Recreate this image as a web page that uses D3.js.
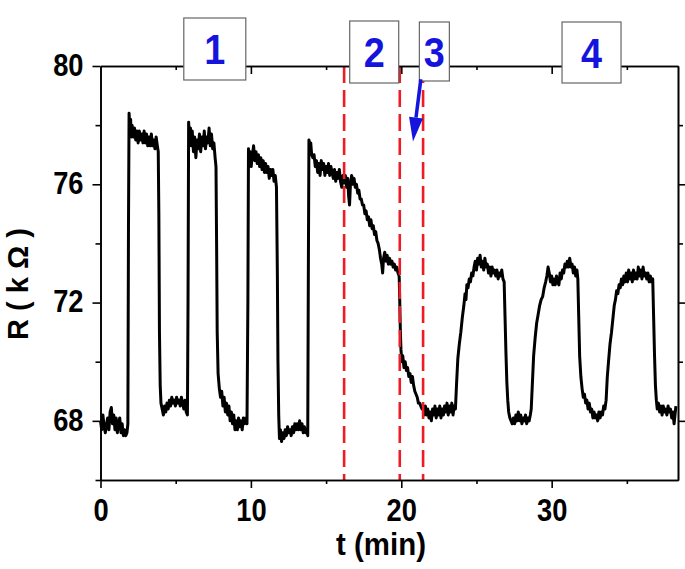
<!DOCTYPE html>
<html>
<head>
<meta charset="utf-8">
<script src="https://cdn.jsdelivr.net/npm/d3@7"></script>
<style>
  html, body { margin: 0; padding: 0; background: #fff; }
  svg { display: block; }
  text { font-family: "Liberation Sans", Arial, sans-serif; font-weight: bold; }
</style>
</head>
<body>
<svg id="chart" width="685" height="569"></svg>
<script>
// ---------------- DATA ----------------
// Phase 1: repeated on/off pulses (t in min, R in kOhm)
const pulseTrace = [
  [0,68.0],[0.08,67.7],[0.16,68.2],[0.24,67.8],[0.32,67.6],[0.4,67.9],[0.48,68.1],[0.56,67.7],[0.64,68.3],[0.72,68.45],
  [0.8,67.9],[0.88,68.2],[0.96,67.7],[1.04,68.1],[1.12,67.6],[1.2,67.9],[1.28,68.1],[1.36,67.6],[1.44,67.9],[1.52,67.5],
  [1.6,67.7],[1.68,67.5],[1.76,67.6],[1.82,67.9],
  [1.86,74.5],[1.9,78.4],[1.95,77.9],[2.0,78.2],[2.05,77.6],[2.1,78.0],[2.18,77.6],[2.26,77.9],[2.34,77.5],[2.42,77.8],
  [2.5,77.4],[2.58,77.8],[2.66,77.5],[2.74,77.7],[2.82,77.4],[2.9,77.8],[2.98,77.4],[3.06,77.7],[3.14,77.3],[3.22,77.6],
  [3.3,77.3],[3.38,77.7],[3.46,77.3],[3.54,77.5],[3.62,77.2],[3.7,77.6],[3.78,77.3],[3.84,77.1],
  [3.88,75.0],[3.92,71.0],[3.97,69.2],[4.02,68.6],[4.1,68.4],[4.18,68.2],[4.26,68.5],[4.34,68.3],[4.42,68.6],[4.5,68.4],
  [4.58,68.7],[4.66,68.5],[4.74,68.8],[4.82,68.6],[4.9,68.7],[4.98,68.5],[5.06,68.8],[5.14,68.6],[5.22,68.7],[5.3,68.5],
  [5.38,68.8],[5.46,68.6],[5.54,68.4],[5.62,68.7],[5.7,68.3],[5.78,68.2],
  [5.82,72.0],[5.86,78.1],[5.92,77.5],[5.98,77.9],[6.04,77.3],[6.1,77.8],[6.18,77.1],[6.26,77.6],[6.34,76.9],[6.42,77.5],
  [6.5,77.2],[6.58,77.7],[6.66,77.1],[6.74,77.6],[6.82,77.3],[6.9,77.8],[6.98,77.2],[7.06,77.6],[7.14,77.4],[7.22,77.9],
  [7.3,77.3],[7.38,77.7],[7.46,77.2],[7.54,77.4],[7.62,76.9],[7.68,76.6],
  [7.72,74.0],[7.76,71.0],[7.82,69.6],[7.9,69.1],[7.98,68.8],[8.06,69.0],[8.14,68.5],[8.22,68.8],[8.3,68.3],[8.38,68.6],
  [8.46,68.2],[8.54,68.5],[8.62,68.0],[8.7,68.3],[8.78,67.9],[8.86,68.2],[8.94,67.7],[9.02,68.0],[9.1,67.7],[9.18,68.1],
  [9.26,67.8],[9.34,68.0],[9.42,67.7],[9.5,68.1],[9.58,67.9],[9.66,68.1],[9.74,67.9],
  [9.8,72.0],[9.84,77.2],[9.9,76.8],[9.96,77.1],[10.02,76.6],[10.1,77.0],[10.18,77.3],[10.26,76.8],[10.34,77.1],[10.42,76.7],
  [10.5,77.0],[10.58,76.6],[10.66,76.9],[10.74,76.5],[10.82,76.8],[10.9,76.4],[10.98,76.7],[11.06,76.4],[11.14,76.6],[11.22,76.2],
  [11.3,76.5],[11.38,76.3],[11.46,76.5],[11.54,76.1],[11.62,76.3],[11.7,75.9],
  [11.76,73.0],[11.8,70.0],[11.85,68.2],[11.9,67.4],[11.96,67.7],[12.04,67.3],[12.12,67.6],[12.2,67.4],[12.28,67.7],[12.36,67.5],
  [12.44,67.8],[12.52,67.6],[12.6,67.7],[12.68,67.5],[12.76,67.8],[12.84,67.6],[12.92,67.9],[13.0,67.7],[13.08,67.9],[13.16,67.7],
  [13.24,68.0],[13.32,67.7],[13.4,67.9],[13.48,67.6],[13.56,67.8],[13.64,67.6],[13.72,67.7],[13.78,67.5],
  [13.82,73.0],[13.86,77.5],[13.92,77.2],[13.98,77.4],[14.04,77.0],[14.12,76.9],[14.2,77.0],[14.28,76.6],[14.36,76.8],[14.44,76.4],
  [14.52,76.7],[14.6,76.3],[14.68,76.8],[14.76,76.5],[14.84,76.7],[14.92,76.3],[15.0,76.6],[15.08,76.4],[15.16,76.7],[15.24,76.3],
  [15.32,76.6],[15.4,76.4],[15.48,76.2],[15.56,76.5],[15.64,76.1],[15.72,76.4],[15.8,76.2],[15.88,76.5],[15.96,76.1],[16.04,75.9],
  [16.12,76.3],[16.2,76.0]
];
// Phase 2: slow drift down
const driftTrace = [
  [16.2,76.0],[16.28,76.3],[16.36,75.9],[16.44,76.2],[16.5,75.6],[16.56,75.3],[16.62,76.0],[16.7,76.3],[16.78,76.0],[16.86,76.2],
  [16.94,75.9],[17.02,76.0],[17.1,75.7],[17.18,75.8],[17.26,75.5],[17.34,75.5],[17.42,75.3],[17.5,75.3],[17.58,75.0],[17.66,75.1],
  [17.74,74.8],[17.82,74.9],[17.9,74.6],[17.98,74.8],[18.06,74.5],[18.14,74.6],[18.22,74.3],[18.3,74.4],[18.38,74.1],[18.46,74.0],
  [18.54,73.8],[18.62,73.5],[18.7,73.3],[18.76,73.0],[18.82,73.5],[18.9,73.7],[18.98,73.4],[19.06,73.6],[19.14,73.3],[19.22,73.5],
  [19.3,73.3],[19.38,73.4],[19.46,73.2],[19.54,73.3],[19.62,73.1],[19.7,73.2],[19.78,73.0],[19.86,72.9]
];
// Phase 3: sharp drop
const dropTrace = [
  [19.86,72.9],[19.9,72.0],[19.94,71.0],[19.98,70.4],[20.04,70.0],[20.1,70.2],[20.18,69.8],[20.26,70.0],[20.34,69.7],[20.42,69.8],
  [20.5,69.5],[20.58,69.6],[20.66,69.3],[20.74,69.5],[20.82,69.2],[20.9,69.0],[20.98,68.9],[21.06,68.8],[21.14,68.6],[21.22,68.6],
  [21.3,68.5],[21.38,68.4],[21.45,68.4]
];
// Phase 4: recovered, slower pulses
const recoveryTrace = [
  [21.45,68.4],[21.52,68.2],[21.6,68.5],[21.68,68.2],[21.76,68.4],[21.84,68.1],[21.92,68.3],[22.0,68.0],[22.08,68.4],[22.16,68.2],
  [22.24,68.5],[22.32,68.1],[22.4,68.4],[22.48,68.2],[22.56,68.5],[22.64,68.1],[22.72,68.4],[22.8,68.2],[22.88,68.5],[22.96,68.3],
  [23.04,68.6],[23.12,68.2],[23.2,68.5],[23.28,68.3],[23.36,68.6],[23.44,68.2],[23.52,68.5],[23.6,68.4],
  [23.68,69.3],[23.76,70.1],[23.86,70.6],[23.96,71.0],[24.06,71.5],[24.16,71.9],[24.24,72.3],[24.3,72.1],[24.36,72.6],[24.44,72.5],
  [24.52,72.8],[24.6,72.7],[24.68,73.0],[24.76,72.9],[24.84,73.2],[24.92,73.4],[25.0,73.1],[25.08,73.5],[25.16,73.3],[25.24,73.6],
  [25.32,73.2],[25.4,73.4],[25.48,73.1],[25.56,73.5],[25.64,73.2],[25.72,73.3],[25.8,73.0],[25.88,73.2],[25.96,72.9],[26.04,73.2],
  [26.12,73.0],[26.2,73.1],[26.28,72.9],[26.36,73.1],[26.44,72.8],[26.52,73.0],[26.6,72.9],[26.68,73.1],[26.76,72.8],[26.84,72.7],
  [26.9,71.5],[26.96,70.3],[27.02,69.3],[27.08,68.7],[27.14,68.3],[27.22,68.1],[27.3,68.0],[27.38,67.9],[27.46,68.1],[27.54,67.9],
  [27.62,68.2],[27.7,68.0],[27.78,68.3],[27.86,68.0],[27.94,68.2],[28.02,67.9],[28.1,68.1],[28.18,68.0],[28.26,68.2],[28.34,67.9],
  [28.42,68.1],[28.5,68.0],[28.58,68.2],[28.64,68.4],
  [28.72,69.3],[28.8,70.2],[28.9,70.8],[29.0,71.3],[29.1,71.6],[29.2,71.9],[29.3,72.1],[29.4,72.2],[29.5,72.5],[29.6,72.7],
  [29.68,72.9],[29.76,73.2],[29.84,73.0],[29.92,72.7],[30.0,72.9],[30.08,72.6],[30.16,72.8],[30.24,72.6],[30.32,72.9],[30.4,72.7],
  [30.48,72.6],[30.56,73.0],[30.64,72.8],[30.72,73.1],[30.8,73.0],[30.88,73.3],[30.96,73.2],[31.04,73.4],[31.12,73.2],[31.2,73.5],
  [31.28,73.2],[31.36,73.3],[31.44,73.0],[31.52,73.2],[31.6,72.9],[31.68,73.1],[31.74,72.8],
  [31.8,71.5],[31.86,70.2],[31.94,69.5],[32.02,69.1],[32.1,68.8],[32.18,68.9],[32.26,68.6],[32.34,68.7],[32.42,68.4],[32.5,68.6],
  [32.58,68.3],[32.66,68.4],[32.74,68.1],[32.82,68.3],[32.9,68.1],[32.98,68.2],[33.06,68.0],[33.14,68.3],[33.22,68.1],[33.3,68.3],
  [33.38,68.2],[33.46,68.5],[33.54,68.4],[33.62,68.7],
  [33.7,69.5],[33.78,70.0],[33.88,70.6],[33.98,71.0],[34.08,71.5],[34.16,71.9],[34.24,72.1],[34.32,72.4],[34.4,72.3],[34.48,72.6],
  [34.56,72.5],[34.64,72.8],[34.72,72.6],[34.8,72.9],[34.88,72.7],[34.96,73.0],[35.04,72.7],[35.12,73.1],[35.2,72.8],[35.28,73.0],
  [35.36,72.7],[35.44,73.1],[35.52,72.8],[35.6,73.0],[35.68,72.8],[35.76,73.2],[35.84,72.9],[35.92,73.1],[36.0,72.8],[36.08,73.2],
  [36.16,72.9],[36.24,73.0],[36.32,72.8],[36.4,73.0],[36.48,72.7],[36.56,72.9],[36.64,72.7],[36.72,72.8],
  [36.78,71.5],[36.84,70.2],[36.9,69.2],[36.96,68.7],[37.02,68.4],[37.1,68.6],[37.18,68.3],[37.26,68.5],[37.34,68.2],[37.42,68.5],
  [37.5,68.3],[37.58,68.4],[37.66,68.2],[37.74,68.5],[37.82,68.3],[37.9,68.4],[37.98,68.1],[38.06,68.3],[38.14,67.9],[38.2,68.2],
  [38.26,68.5]
];

const xMajorTicks = [0, 10, 20, 30];
const xMinorTicks = [5, 15, 25, 35];
const yMajorTicks = [68, 72, 76, 80];
const yMinorTicks = [66, 70, 74, 78];
const phaseBoundaries = [16.2, 19.9, 21.45];          // red dashed lines (min)
const phaseLabels = ["1", "2", "3", "4"];
const phaseLabelCenters = [7.6, 18.2, 22.2, 32.65];  // t of each label box centre
const arrowFrom = [21.3, 79.55];                       // [t, R]
const arrowTo = [20.78, 77.45];
const xTitle = "t (min)";
const yTitle = "R ( k Ω )";

// ---------------- LAYOUT ----------------
const L = 100.5, R = 678, T = 66, B = 480;
const FONT = '"Liberation Sans", Arial, sans-serif';
const svg = d3.select("#chart");
const x = d3.scaleLinear().domain([0, 38.4]).range([L, R]);
const y = d3.scaleLinear().domain([66, 80]).range([B, T]);

// trace
const line = d3.line().x(d => x(d[0])).y(d => y(d[1]));
[pulseTrace, driftTrace, dropTrace, recoveryTrace].forEach(tr => {
  svg.append("path").datum(tr).attr("d", line)
    .attr("fill", "none").attr("stroke", "#000").attr("stroke-width", 3)
    .attr("stroke-linejoin", "round");
});

// dashed phase boundaries
svg.selectAll("line.phase").data(phaseBoundaries).enter().append("line")
  .attr("x1", d => x(d)).attr("x2", d => x(d))
  .attr("y1", T).attr("y2", B)
  .attr("stroke", "#ee1c25").attr("stroke-width", 2.6)
  .attr("stroke-dasharray", "17,7");

// axes
const axisStyle = g => {
  g.selectAll("path.domain").attr("stroke", "#000").attr("stroke-width", 1.6);
  g.selectAll(".tick line").attr("stroke", "#000").attr("stroke-width", 1.6);
  g.selectAll("text").attr("font-size", 31).attr("fill", "#000")
    .attr("font-family", FONT).attr("font-weight", "bold");
};
const bottomMajor = svg.append("g").attr("transform", `translate(0,${B})`)
  .call(d3.axisBottom(x).tickValues(xMajorTicks).tickSize(8).tickSizeOuter(0).tickPadding(11).tickFormat(d3.format("d")))
  .call(axisStyle);
bottomMajor.selectAll(".tick text").attr("transform", "scale(0.88,1)");
svg.append("g").attr("transform", `translate(0,${B})`)
  .call(d3.axisBottom(x).tickValues(xMinorTicks).tickSize(4).tickSizeOuter(0).tickFormat(""))
  .call(axisStyle);
svg.append("g").attr("transform", `translate(0,${T})`)
  .call(d3.axisBottom(x).tickValues(xMajorTicks.slice(1)).tickSize(8).tickSizeOuter(0).tickFormat(""))
  .call(axisStyle);
svg.append("g").attr("transform", `translate(0,${T})`)
  .call(d3.axisBottom(x).tickValues(xMinorTicks).tickSize(4).tickSizeOuter(0).tickFormat(""))
  .call(axisStyle);
const leftMajor = svg.append("g").attr("transform", `translate(${L},0)`)
  .call(d3.axisLeft(y).tickValues(yMajorTicks).tickSize(8).tickSizeOuter(0).tickPadding(8).tickFormat(d3.format("d")))
  .call(axisStyle);
leftMajor.selectAll(".tick text").attr("x", 0).attr("dy", "0.3em").attr("transform", "translate(-17,0) scale(0.88,1)");
svg.append("g").attr("transform", `translate(${L},0)`)
  .call(d3.axisLeft(y).tickValues(yMinorTicks).tickSize(5).tickSizeOuter(0).tickFormat(""))
  .call(axisStyle);
svg.append("g").attr("transform", `translate(${R},0)`)
  .call(d3.axisLeft(y).tickValues(yMajorTicks.slice(0, 3)).tickSize(-8).tickSizeOuter(0).tickFormat(""))
  .call(axisStyle);
svg.append("g").attr("transform", `translate(${R},0)`)
  .call(d3.axisLeft(y).tickValues(yMinorTicks.slice(1)).tickSize(-5).tickSizeOuter(0).tickFormat(""))
  .call(axisStyle);

// axis titles
svg.append("text").attr("transform", "translate(381,555) scale(0.95,1)").attr("text-anchor", "middle")
  .attr("font-size", 31).text(xTitle);
svg.append("text").attr("transform", "translate(28,284) rotate(-90)").attr("text-anchor", "middle")
  .attr("font-size", 29).text(yTitle);

// label boxes
const boxes = [
  {w: 62, top: 18, bot: 80},
  {w: 49, top: 21, bot: 83},
  {w: 30, top: 22, bot: 81},
  {w: 59, top: 22, bot: 83}
];
phaseLabels.forEach((lab, i) => {
  const cx = x(phaseLabelCenters[i]);
  const b = boxes[i];
  svg.append("rect").attr("x", cx - b.w / 2).attr("y", b.top).attr("width", b.w).attr("height", b.bot - b.top)
    .attr("fill", "#fff").attr("stroke", "#666").attr("stroke-width", 1.2);
  svg.append("text").attr("transform", `translate(${cx},${(b.top + b.bot) / 2 + 15}) scale(0.9,1)`)
    .attr("text-anchor", "middle")
    .attr("font-size", 42).attr("fill", "#1414dc").text(lab);
});

// arrow
const ax1 = x(arrowFrom[0]), ay1 = y(arrowFrom[1]), ax2 = x(arrowTo[0]), ay2 = y(arrowTo[1]);
const ang = Math.atan2(ay2 - ay1, ax2 - ax1);
const headLen = 24, headHalf = 7;
const bx = ax2 - headLen * Math.cos(ang), by = ay2 - headLen * Math.sin(ang);
svg.append("line").attr("x1", ax1).attr("y1", ay1).attr("x2", bx).attr("y2", by)
  .attr("stroke", "#1414dc").attr("stroke-width", 3.5);
svg.append("path")
  .attr("d", `M${ax2},${ay2} L${bx - headHalf * Math.sin(ang)},${by + headHalf * Math.cos(ang)} L${bx + headHalf * Math.sin(ang)},${by - headHalf * Math.cos(ang)} Z`)
  .attr("fill", "#1414dc");
</script>
</body>
</html>
